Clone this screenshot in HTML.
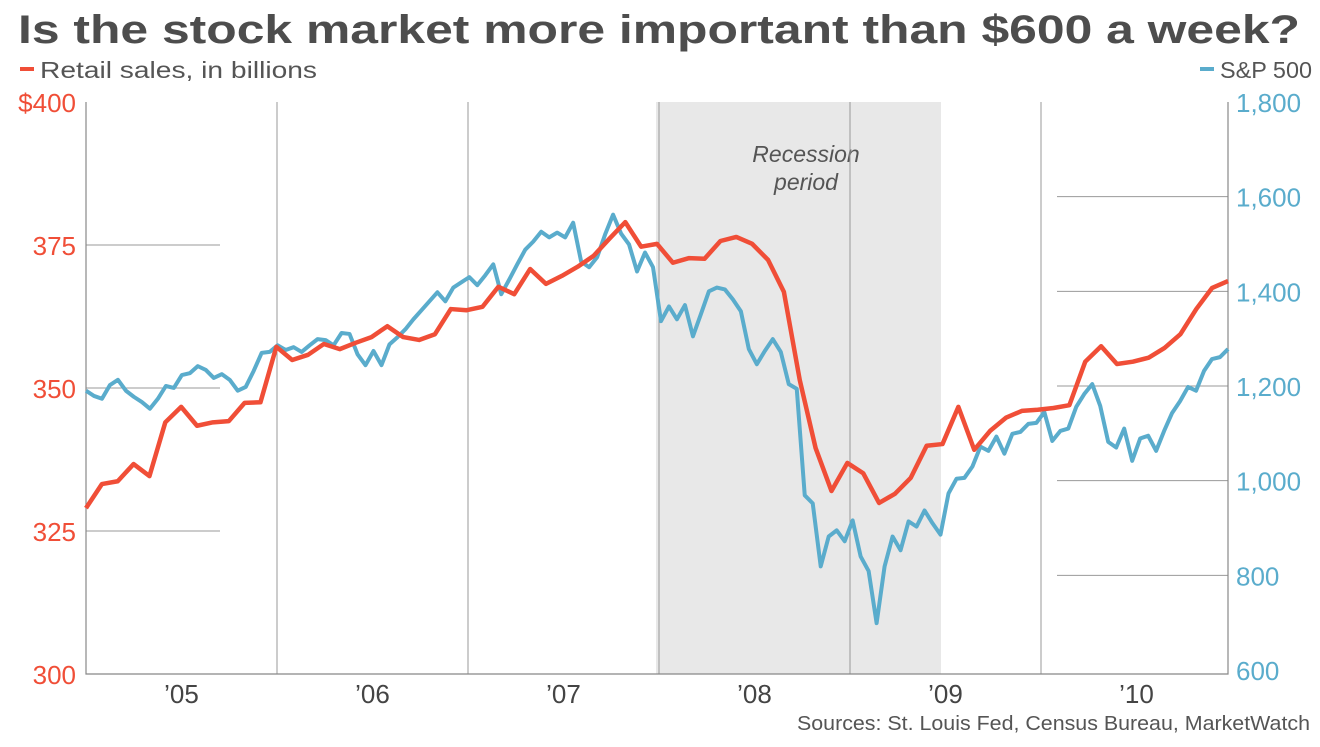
<!DOCTYPE html>
<html><head><meta charset="utf-8"><style>
body{margin:0;background:#fff;width:1320px;height:742px;overflow:hidden;font-family:"Liberation Sans",sans-serif}
</style></head><body>
<svg width="1320" height="742" id="c">
<text x="18" y="43" font-size="40" font-weight="bold" fill="#4d4d4d" textLength="1282" lengthAdjust="spacingAndGlyphs">Is the stock market more important than $600 a week?</text>
<g><rect x="20" y="67" width="14" height="4" fill="#f04e37"/><text x="40" y="78" font-size="23" fill="#555" textLength="277" lengthAdjust="spacingAndGlyphs">Retail sales, in billions</text></g>
<g><rect x="1200" y="67" width="14" height="4" fill="#5aaccc"/><text x="1220" y="78" font-size="23" fill="#555" textLength="92" lengthAdjust="spacingAndGlyphs">S&amp;P 500</text></g>
<text x="797" y="730" font-size="20" fill="#555" textLength="513" lengthAdjust="spacingAndGlyphs">Sources: St. Louis Fed, Census Bureau, MarketWatch</text>
<rect x="656" y="102" width="285" height="572" fill="#e8e8e8"/>
<text x="806" y="162" font-size="23" font-style="italic" fill="#555" text-anchor="middle">Recession</text>
<text x="806" y="190" font-size="23" font-style="italic" fill="#555" text-anchor="middle">period</text>
<g id="grid"></g><g id="axes"></g><g id="series"></g>
</svg>
<script>
const leftTicks=[400,375,350,325,300];
const leftLabels=["$400","375","350","325","300"];
const rightTicks=[1800,1600,1400,1200,1000,800,600];
const rightLabels=["1,800","1,600","1,400","1,200","1,000","800","600"];
const years=["’05","’06","’07","’08","’09","’10"];
const retail=[329,333.2,333.7,336.7,334.6,344,346.7,343.4,344,344.2,347.4,347.5,357.2,354.9,355.8,357.7,356.8,357.9,358.9,360.8,358.9,358.4,359.4,363.8,363.6,364.2,367.7,366.4,370.8,368.2,369.6,371.2,373.1,376.1,379,374.7,375.2,371.9,372.7,372.6,375.7,376.4,375.2,372.4,366.8,351.4,339.5,332,336.9,335.1,329.9,331.5,334.3,339.9,340.2,346.7,339.2,342.5,344.8,346,346.2,346.5,347,354.6,357.3,354.2,354.6,355.3,357,359.4,363.8,367.5,368.7];
const sp500=[1190,1179,1173,1202,1213,1190,1177,1166,1152,1173,1200,1196,1223,1227,1242,1234,1217,1225,1213,1190,1198,1232,1270,1272,1286,1276,1282,1272,1286,1299,1297,1286,1312,1310,1267,1244,1274,1244,1288,1303,1320,1341,1360,1379,1398,1379,1408,1419,1430,1413,1434,1457,1394,1425,1457,1488,1505,1526,1514,1524,1514,1545,1463,1451,1472,1520,1562,1522,1499,1442,1482,1451,1337,1368,1341,1371,1305,1352,1400,1408,1404,1383,1358,1278,1246,1274,1299,1272,1204,1194,969,952,819,882,895,872,916,840,809,699,819,882,853,914,903,937,910,886,973,1004,1006,1030,1072,1063,1093,1057,1099,1103,1120,1122,1145,1084,1105,1110,1156,1183,1204,1158,1082,1070,1110,1042,1089,1095,1063,1105,1143,1168,1198,1190,1232,1257,1261,1278];
const X0=86,X1=1228,Y0=102,Y1=674;
const yL=v=>Y0+(400-v)/100*(Y1-Y0);
const yR=v=>Y0+(1800-v)/1200*(670-Y0);
const yearW=191;
const ns="http://www.w3.org/2000/svg";
function mk(t,a,p){const e=document.createElementNS(ns,t);for(const k in a)e.setAttribute(k,a[k]);p.appendChild(e);return e;}
const g=document.getElementById('grid'),ax=document.getElementById('axes'),s=document.getElementById('series');
for(let i=1;i<6;i++){const x=X0+i*yearW;const l=mk('line',{x1:x,x2:x,y1:Y0,y2:Y1,stroke:'#999','stroke-width':1},g);

}
leftTicks.forEach((v,i)=>{const y=yL(v);
if(i>0&&i<4){const l=mk('line',{x1:X0,x2:220,y1:y,y2:y,stroke:'#999'},g);

}
const t=mk('text',{x:76,y:y+10,'font-size':26,fill:'#f04e37','text-anchor':'end'},ax);t.textContent=leftLabels[i];

});
rightTicks.forEach((v,i)=>{const y=yR(v);
if(i>0&&i<6){const l=mk('line',{x1:1057,x2:X1,y1:y,y2:y,stroke:'#999'},g);

}
const t=mk('text',{x:1236,y:y+10,'font-size':26,fill:'#5aaccc'},ax);t.textContent=rightLabels[i];

});
years.forEach((yr,i)=>{const t=mk('text',{x:X0+(i+0.5)*yearW,y:703,'font-size':26,fill:'#444','text-anchor':'middle'},ax);t.textContent=yr;

});
const fr=mk('path',{d:`M${X0},${Y0}V${Y1}H${X1}V${Y0}`,fill:'none',stroke:'#888','stroke-width':1.2},ax);


const bp=sp500.map((v,i)=>[X0+i*(X1-X0)/(sp500.length-1),yR(v)]);
const b=mk('polyline',{points:bp.map(p=>p.join(',')).join(' '),fill:'none',stroke:'#5aaccc','stroke-width':4,'stroke-linejoin':'round'},s);


const rp=retail.map((v,i)=>[X0+i*(X1-X0)/(retail.length-1),yL(v)]);
const r=mk('polyline',{points:rp.map(p=>p.join(',')).join(' '),fill:'none',stroke:'#f04e37','stroke-width':4.5,'stroke-linejoin':'round'},s);


</script>
</body></html>
